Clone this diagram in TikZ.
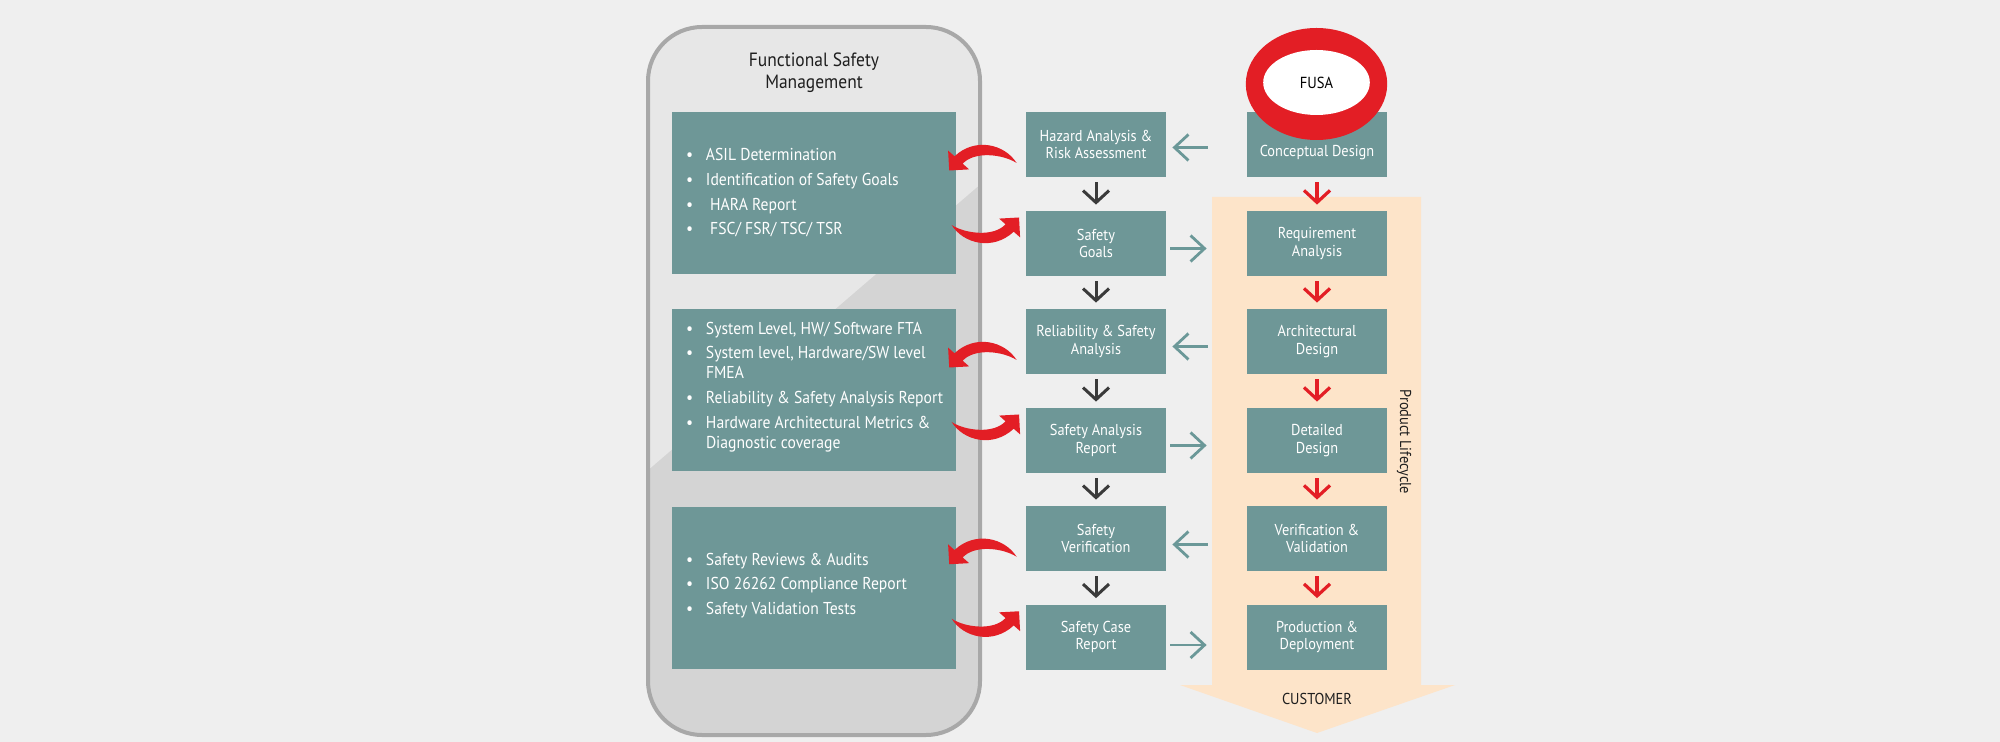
\documentclass[tikz,border=0pt]{standalone}
\usepackage{fontspec}
\setmainfont{PT Sans}[FakeStretch=0.91]
\usetikzlibrary{arrows.meta,calc,shapes.geometric}
\definecolor{bg}{HTML}{EFEFEF}
\definecolor{boxteal}{HTML}{6E9797}
\definecolor{arrteal}{HTML}{6B9898}
\definecolor{fred}{HTML}{E31E25}
\definecolor{dgray}{HTML}{3A3A3A}
\definecolor{peach}{HTML}{FDE4C9}
\definecolor{pane}{HTML}{E7E7E7}
\definecolor{panedark}{HTML}{D4D4D4}
\definecolor{paneline}{HTML}{A8A8A8}
\definecolor{txtdark}{HTML}{1E1E1E}
\newcommand\bul{\makebox[10pt][l]{\textbullet}}
\newcommand\cont{\hspace*{10pt}}
\begin{document}
\begin{tikzpicture}[x=0.5pt,y=-0.5pt,
  mbox/.style={fill=boxteal, minimum width=70pt, minimum height=32.5pt, inner sep=0pt,
    text=white, align=center, font=\fontsize{7.9pt}{8.85pt}\selectfont},
  mtext/.style={text=white, align=center, inner sep=0pt, font=\fontsize{7.9pt}{8.85pt}\selectfont},
  lbox/.style={fill=boxteal, minimum width=142pt, minimum height=81pt, inner sep=0pt},
  ltext/.style={text=white, align=left, inner sep=0pt, anchor=west, font=\fontsize{8.6pt}{10pt}\selectfont},
  darr/.style={draw=dgray, line width=1.5pt, -{Straight Barb[length=6pt,width=13pt]}, shorten <=2.5pt, shorten >=3pt},
  rarr/.style={draw=fred, line width=1.6pt, -{Straight Barb[length=6pt,width=13pt]}, shorten <=2.5pt, shorten >=3pt},
  tarrR/.style={draw=arrteal, line width=1.4pt, -{Straight Barb[length=7pt,width=13pt]}, shorten <=2pt, shorten >=20pt},
  tarrL/.style={draw=arrteal, line width=1.4pt, -{Straight Barb[length=7pt,width=13pt]}, shorten <=19.5pt, shorten >=3pt},
  redcurve/.pic={
    \fill[fred] (32.5,-31) .. controls (20.5,-50) and (-9,-57) .. (-29.6,-37.7)
      -- (-36,-43.4) -- (-34.9,-23.5) -- (-15,-24.6) -- (-21.4,-30.3)
      .. controls (-10,-43) and (18.5,-40) .. (32.5,-31) -- cycle;
  }]
\useasboundingbox (0,0) rectangle (2000,742);
\fill[bg] (0,0) rectangle (2000,742);

% product lifecycle arrow
\fill[peach] (1212,197) -- (1421,197) -- (1421,685) -- (1455,685) -- (1317,733)
  -- (1180,685) -- (1212,685) -- cycle;
\node[rotate=-90, text=txtdark, inner sep=0pt, font=\fontsize{7.9pt}{9pt}\selectfont] (plc) at (1404,442) {Product Lifecycle};
\node[text=txtdark, inner sep=0pt, font=\fontsize{7.9pt}{9pt}\selectfont] (cust) at (1317,699) {CUSTOMER};

% functional safety management pane
\begin{scope}
  \clip[rounded corners=27pt] (648,27) rectangle (980,735);
  \fill[panedark] (640,20) rectangle (990,745);
  \fill[pane] (640,20) -- (990,20) -- (990,176) -- (640,477) -- cycle;
\end{scope}
\draw[paneline, line width=2pt, rounded corners=27pt] (648,27) rectangle (980,735);
\node[text=txtdark, align=center, inner sep=0pt, font=\fontsize{9.6pt}{11.2pt}\selectfont] (fsm) at (814,73) {Functional Safety\\Management};

% left boxes
\node[lbox] (lb1) at (814,193) {};
\node[lbox] (lb2) at (814,390) {};
\node[lbox] (lb3) at (814,587.5) {};
\node[ltext] (lt1) at ($(lb1.west)+(14,0)$) {\bul ASIL Determination\\[2.35pt]
  \bul Identification of Safety Goals\\[2.35pt]
  \bul\ HARA Report\\[2.35pt]
  \bul\ FSC/ FSR/ TSC/ TSR};
\node[ltext] (lt2) at ($(lb2.west)+(14,-3)$) {\bul System Level, HW/ Software FTA\\[2.35pt]
  \bul System level, Hardware/SW level\\
  \cont FMEA\\[2.35pt]
  \bul Reliability \& Safety Analysis Report\\[2.35pt]
  \bul Hardware Architectural Metrics \&\\
  \cont Diagnostic coverage};
\node[ltext] (lt3) at ($(lb3.west)+(14,-2)$) {\bul Safety Reviews \& Audits\\[2.35pt]
  \bul ISO 26262 Compliance Report\\[2.35pt]
  \bul Safety Validation Tests};

% middle column
\node[mbox] (hz)  at (1096,144.5) {Hazard Analysis \&\\Risk Assessment};
\node[mbox] (sg)  at (1096,243.5) {Safety\\Goals};
\node[mbox] (rs)  at (1096,341.5) {Reliability \& Safety\\Analysis};
\node[mbox] (sar) at (1096,440.5) {Safety Analysis\\Report};
\node[mbox] (sv)  at (1096,538.5) {Safety\\Verification};
\node[mbox] (scr) at (1096,637)   {Safety Case\\Report};

% right column
\node[mbox] (cd) at (1317,144.5) {};
\node[mbox] (ra) at (1317,243.5) {Requirement\\Analysis};
\node[mbox] (ad) at (1317,341.5) {Architectural\\Design};
\node[mbox] (dd) at (1317,440.5) {Detailed\\Design};
\node[mbox] (vv) at (1317,538.5) {Verification \&\\Validation};
\node[mbox] (pd) at (1317,637)   {Production \&\\Deployment};
\node[mtext] (cdt) at (1317,153) {Conceptual Design};

% down arrows
\draw[darr] (hz) -- (sg);
\draw[darr] (sg) -- (rs);
\draw[darr] (rs) -- (sar);
\draw[darr] (sar) -- (sv);
\draw[darr] (sv) -- (scr);
\draw[rarr] (cd) -- (ra);
\draw[rarr] (ra) -- (ad);
\draw[rarr] (ad) -- (dd);
\draw[rarr] (dd) -- (vv);
\draw[rarr] (vv) -- (pd);

% horizontal arrows
\draw[tarrL] ($(cd.west)+(0,3)$) -- ($(hz.east)+(0,3)$);
\draw[tarrR] ($(sg.east)+(0,5)$) -- ($(ra.west)+(0,5)$);
\draw[tarrL] ($(ad.west)+(0,5)$) -- ($(rs.east)+(0,5)$);
\draw[tarrR] ($(sar.east)+(0,5)$) -- ($(dd.west)+(0,5)$);
\draw[tarrL] ($(vv.west)+(0,6)$) -- ($(sv.east)+(0,6)$);
\draw[tarrR] ($(scr.east)+(0,8)$) -- ($(pd.west)+(0,8)$);

% red curved arrows
\coordinate (cA) at ($(hz.west)!0.5!(sg.west)+(-41.5,0)$);
\coordinate (cB) at ($(rs.west)!0.5!(sar.west)+(-41.5,0)$);
\coordinate (cC) at ($(sv.west)!0.5!(scr.west)+(-41.5,0)$);
\pic at (cA) {redcurve};
\pic[rotate=180] at (cA) {redcurve};
\pic at (cB) {redcurve};
\pic[rotate=180] at (cB) {redcurve};
\pic at (cC) {redcurve};
\pic[rotate=180] at (cC) {redcurve};

% FUSA
\node[ellipse, fill=fred, minimum width=70.7pt, minimum height=56pt, inner sep=0pt] (fring) at (1316.5,84) {};
\node[ellipse, fill=white, minimum width=53.3pt, minimum height=32.5pt, inner sep=0pt,
  text=black, font=\fontsize{8pt}{9pt}\selectfont] (fusa) at (1316.5,82.5) {FUSA};
\end{tikzpicture}
\end{document}
